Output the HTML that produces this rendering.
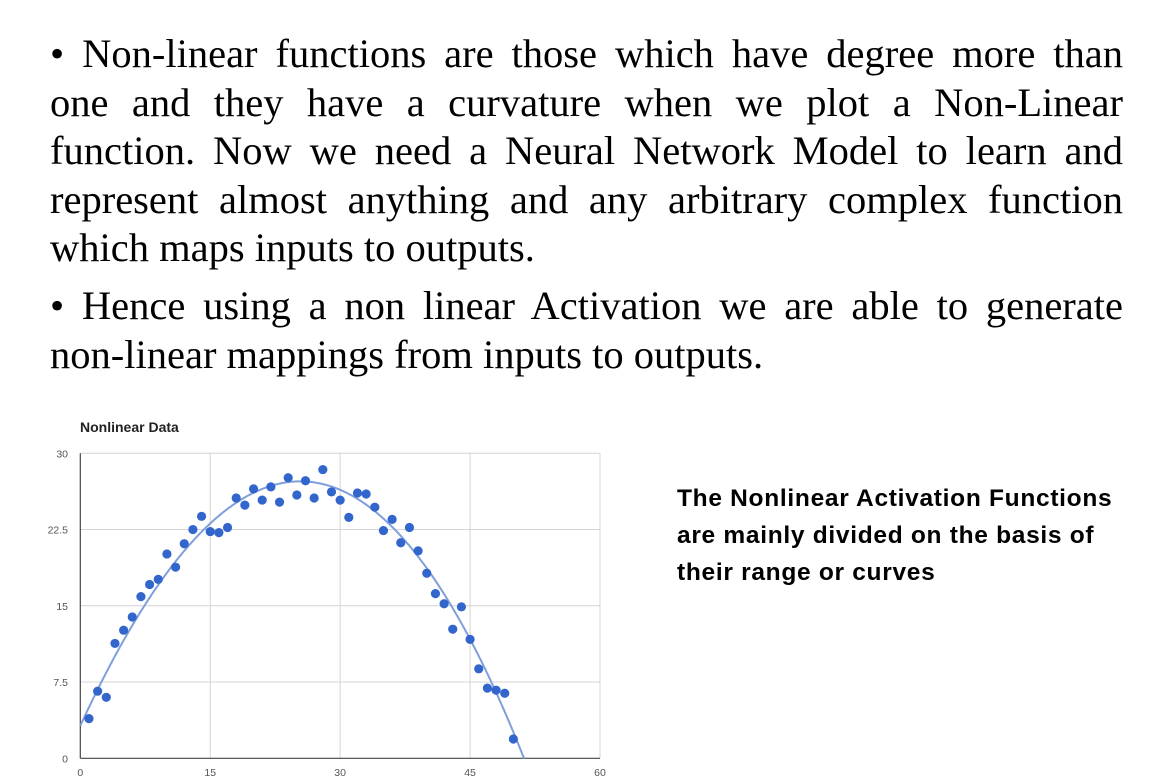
<!DOCTYPE html>
<html><head><meta charset="utf-8">
<style>
html,body{margin:0;padding:0;background:#fff;width:1176px;height:783px;overflow:hidden;position:relative}
.para{position:absolute;left:50px;width:1073px;font-family:"Liberation Serif",serif;font-size:40.5px;color:#000}
.ln{height:48.5px;line-height:48.5px;white-space:nowrap;text-align:justify;text-align-last:justify}
.ln.last{text-align-last:left}
#side{position:absolute;left:677px;top:480px;font-family:"Liberation Sans",sans-serif;font-weight:bold;font-size:24.5px;letter-spacing:0.7px;color:#000}
#side div{height:37px;line-height:37px;white-space:nowrap}
svg{position:absolute;left:0;top:0}
</style></head>
<body>
<div class="para" style="top:30px">
<div class="ln">• Non-linear functions are those which have degree more than</div>
<div class="ln">one and they have a curvature when we plot a Non-Linear</div>
<div class="ln">function. Now we need a Neural Network Model to learn and</div>
<div class="ln">represent almost anything and any arbitrary complex function</div>
<div class="ln last">which maps inputs to outputs.</div>
</div>
<div class="para" style="top:282px">
<div class="ln">• Hence using a non linear Activation we are able to generate</div>
<div class="ln last">non-linear mappings from inputs to outputs.</div>
</div>
<div id="side">
<div>The Nonlinear Activation Functions</div>
<div>are mainly divided on the basis of</div>
<div>their range or curves</div>
</div>
<svg id="chart" width="1176" height="783"></svg>
<script>
const xs=[1,2,3,4,5,6,7,8,9,10,11,12,13,14,15,16,17,18,19,20,21,22,23,24,25,26,27,28,29,30,31,32,33,34,35,36,37,38,39,40,41,42,43,44,45,46,47,48,49,50];
const ys=[3.9,6.6,6.0,11.3,12.6,13.9,15.9,17.1,17.6,20.1,18.8,21.1,22.5,23.8,22.3,22.2,22.7,25.6,24.9,26.5,25.4,26.7,25.2,27.6,25.9,27.3,25.6,28.4,26.2,25.4,23.7,26.1,26.0,24.7,22.4,23.5,21.2,22.7,20.4,18.2,16.2,15.2,12.7,14.9,11.7,8.8,6.9,6.7,6.4,1.9];
const xTicks=[0,15,30,45,60];
const yTicks=[0,7.5,15,22.5,30];
const yTickLabels=["0","7.5","15","22.5","30"];
const trend=[3.2,1.849,-0.03378,-0.000069]; // y = c0 + c1 x + c2 x^2 + c3 x^3
const X0=80.3,X1=600,Y0=758.3,Y1=453.3;
const sx=v=>X0+(X1-X0)*v/60, sy=v=>Y0-(Y0-Y1)*v/30;
const svg=document.getElementById('chart');
const NS='http://www.w3.org/2000/svg';
function mk(t,a){const e=document.createElementNS(NS,t);for(const k in a)e.setAttribute(k,a[k]);svg.appendChild(e);return e;}
let t=mk('text',{x:80,y:432,'font-family':'Liberation Sans, sans-serif','font-size':14,'font-weight':'bold',fill:'#222'});
t.textContent='Nonlinear Data';


yTicks.forEach((v,i)=>{
 if(v>0){const g=mk('line',{x1:X0,x2:X1,y1:sy(v),y2:sy(v),stroke:'#d4d4d4','stroke-width':1});
 
 }
 const l=mk('text',{x:68,y:sy(v)+4,'text-anchor':'end','font-family':'Liberation Sans, sans-serif','font-size':10.5,fill:'#555'});
 l.textContent=yTickLabels[i];
 
 
});
xTicks.forEach(v=>{
 if(v>0){const g=mk('line',{x1:sx(v),x2:sx(v),y1:Y1,y2:Y0,stroke:'#d4d4d4','stroke-width':1});
 
 }
 const l=mk('text',{x:sx(v),y:776,'text-anchor':'middle','font-family':'Liberation Sans, sans-serif','font-size':10.5,fill:'#555'});
 l.textContent=String(v);
 
 
});
let ax=mk('line',{x1:X0,x2:X0,y1:Y1,y2:Y0,stroke:'#444','stroke-width':1.2});


let ax2=mk('line',{x1:X0,x2:X1,y1:Y0,y2:Y0,stroke:'#444','stroke-width':1.2});


const f=x=>trend[0]+trend[1]*x+trend[2]*x*x+trend[3]*x*x*x;
let d='';
for(let x=0;x<=60;x+=0.1){const y=f(x);if(y<0){d+='L'+sx(x).toFixed(1)+','+sy(0).toFixed(1);break;}d+=(d?'L':'M')+sx(x).toFixed(1)+','+sy(y).toFixed(1);}
let tl=mk('path',{d:d,fill:'none',stroke:'#7f9fdc','stroke-width':2});


xs.forEach((x,i)=>{
 const c=mk('circle',{cx:sx(x),cy:sy(ys[i]),r:4.6,fill:'#3366cc'});
 
 
});
</script>
</body></html>
